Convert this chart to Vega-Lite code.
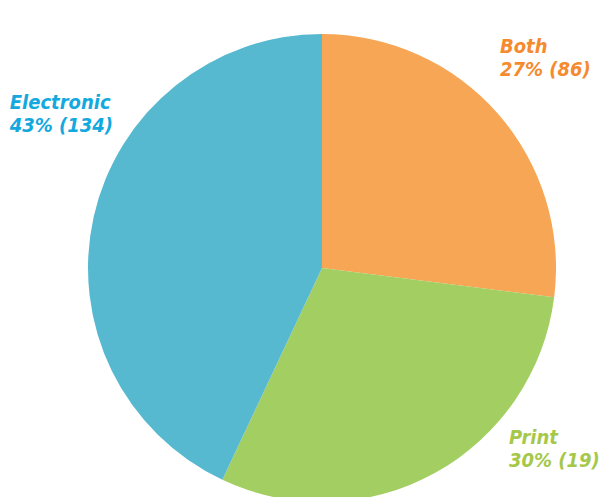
{
  "$schema": "https://vega.github.io/schema/vega-lite/v6.json",
  "autosize": {"type": "none"},
  "width": 468,
  "height": 468,
  "padding": {"left": 88, "top": 34, "right": 44, "bottom": 0},
  "background": "white",
  "config": {"view": {"stroke": null}},
  "data": {
    "values": [
      {"category": "Both", "pct": 27, "count": 86, "rank": 1, "label": "Both\n27% (86)"},
      {"category": "Print", "pct": 30, "count": 19, "rank": 2, "label": "Print\n30% (19)"},
      {"category": "Electronic", "pct": 43, "count": 134, "rank": 3, "label": "Electronic\n43% (134)"}
    ]
  },
  "encoding": {
    "theta": {"field": "pct", "type": "quantitative", "stack": true},
    "order": {"field": "rank", "type": "quantitative"}
  },
  "layer": [
    {
      "mark": {"type": "arc"},
      "encoding": {
        "color": {
          "field": "category",
          "type": "nominal",
          "scale": {"domain": ["Both", "Print", "Electronic"], "range": ["#F7A655", "#A2CE62", "#56B9D0"]},
          "legend": null
        }
      }
    },
    {
      "mark": {
        "type": "text",
        "radius": 280,
        "align": "left",
        "baseline": "top",
        "dx": {"expr": "datum.category === 'Both' ? -32 : datum.category === 'Print' ? 52 : -39"},
        "dy": {"expr": "datum.category === 'Both' ? -46 : datum.category === 'Print' ? -85 : -114"},
        "lineBreak": "\n",
        "lineHeight": 23,
        "font": "Liberation Sans Narrow, DejaVu Sans Condensed, Roboto",
        "fontSize": 20,
        "fontWeight": "bold",
        "fontStyle": "italic"
      },
      "encoding": {
        "text": {"field": "label"},
        "color": {
          "field": "category",
          "type": "nominal",
          "scale": {"domain": ["Both", "Print", "Electronic"], "range": ["#F58A2E", "#A6C84A", "#14A9DE"]},
          "legend": null
        }
      }
    }
  ],
  "resolve": {"scale": {"color": "independent"}}
}
